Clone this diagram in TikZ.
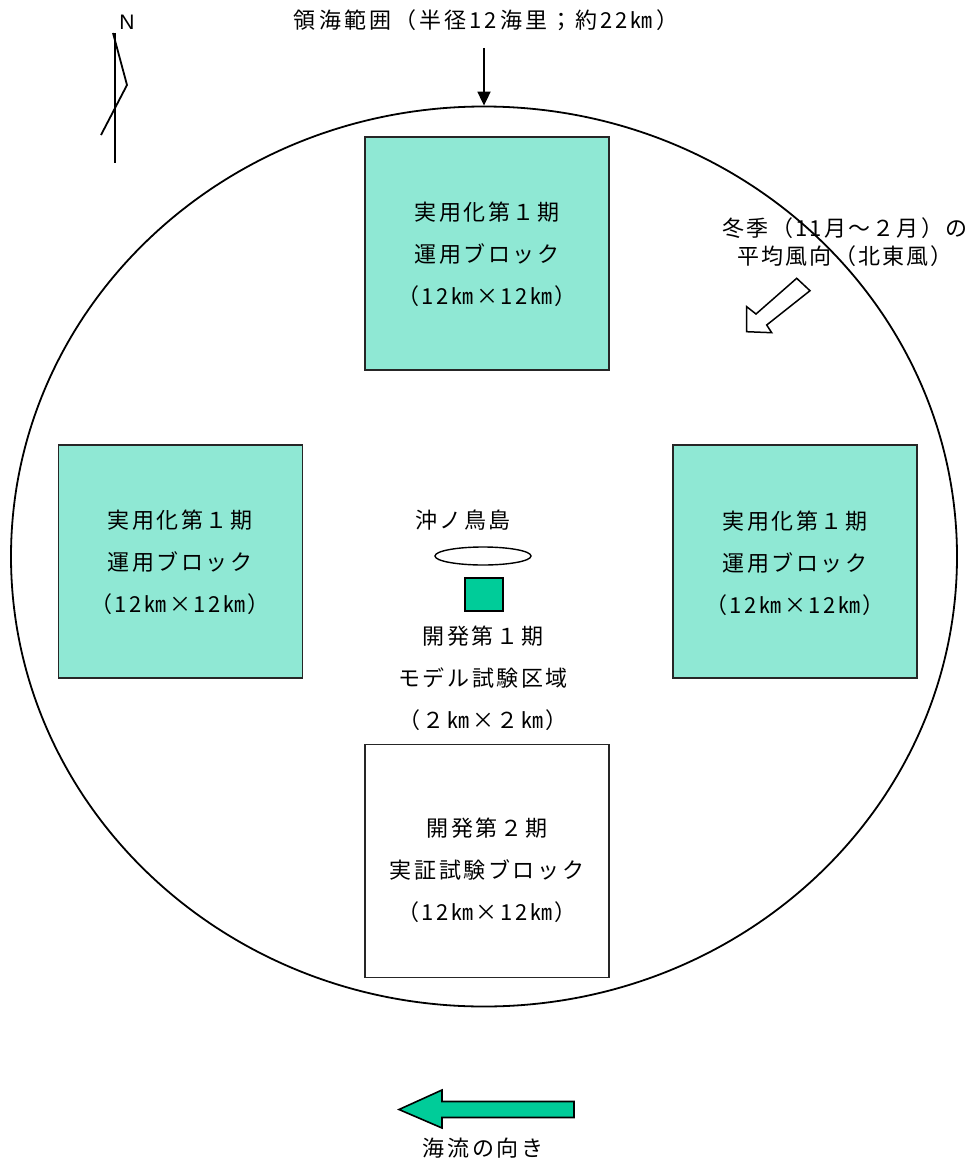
\documentclass[tikz,border=0pt]{standalone}
\usepackage{fontspec}
\newfontfamily\jp{Noto Sans CJK JP}
\setmainfont{Liberation Sans}
\usetikzlibrary{shapes.geometric,arrows.meta}
\definecolor{mint}{RGB}{143,232,212}
\definecolor{sea}{RGB}{0,204,153}
\tikzset{
  blk/.style={draw=black!85, line width=1.8pt, minimum width=244pt, minimum height=233pt, inner sep=0pt},
  lbl/.style={font=\jp\fontsize{22}{42}\selectfont\addfontfeature{LetterSpace=12}, align=center, inner sep=0pt},
  thin/.style={line width=1.8pt},
}
\begin{document}
\begin{tikzpicture}[x=1pt,y=-1pt]
\useasboundingbox (0,0) rectangle (970,1164);
% sea boundary
\node[draw, thin, ellipse, minimum width=946pt, minimum height=900pt, inner sep=0pt] (zone) at (484,556.5) {};
% title + arrow
\node[lbl, font=\jp\fontsize{22}{22}\selectfont\addfontfeature{LetterSpace=14}] (title) at (486,20) {領海範囲（半径12海里；約22㎞）};
\coordinate (tstart) at (484,48);
\draw[thin, -{Triangle[length=14pt,width=13pt]}] (tstart) -- (zone.north);
% north symbol
\coordinate (n1) at (115,33);
\coordinate (n2) at (115,163);
\coordinate (n3) at (113,33);
\coordinate (n4) at (127,85);
\coordinate (n5) at (101,135);
\draw[line width=1.8pt] (n1) -- (n2);
\draw[line width=1.8pt] (n3) -- (n4) -- (n5);
\node[font=\fontsize{21}{21}\selectfont, inner sep=0pt] (nlab) at (127,22) {N};
% blocks
\node[blk, fill=mint] (btop) at (487,253.5) {};
\node[blk, fill=mint] (bleft) at (180.5,561.5) {};
\node[blk, fill=mint] (bright) at (795,561.5) {};
\node[blk, fill=white] (bbot) at (487,861) {};
\node[lbl] (ttop) at (487,254) {実用化第１期\\運用ブロック\\（12㎞×12㎞）};
\node[lbl] (tleft) at (180,562) {実用化第１期\\運用ブロック\\（12㎞×12㎞）};
\node[lbl] (tright) at (795,563) {実用化第１期\\運用ブロック\\（12㎞×12㎞）};
\node[lbl] (tbot) at (487,870) {開発第２期\\実証試験ブロック\\（12㎞×12㎞）};
% island
\node[lbl] (island) at (463,520) {沖ノ鳥島};
\node[draw, line width=1.4pt, ellipse, minimum width=96pt, minimum height=18pt, inner sep=0pt] (islandshape) at (483,556) {};
\node[draw, line width=1.6pt, fill=sea, minimum width=38pt, minimum height=33pt, inner sep=0pt] (model) at (484,594.5) {};
\node[lbl] (tmodel) at (483,678) {開発第１期\\モデル試験区域\\（２㎞×２㎞）};
% wind
\node[lbl, font=\jp\fontsize{22}{28}\selectfont\addfontfeature{LetterSpace=10}] (wind) at (845,242) {冬季（11月～２月）の\\平均風向（北東風）};
\draw[line width=1.5pt, fill=white] (746.7,331.7) -- (746.7,306.7) -- (756,314) -- (796.7,278.3) -- (810,290.7) -- (766.7,325) -- (771.7,332.7) -- cycle;
% current
\draw[line width=1.6pt, fill=sea] (399,1109.5) -- (442,1090) -- (442,1101.5) -- (574,1101.5) -- (574,1117.5) -- (442,1117.5) -- (442,1128) -- cycle;
\node[lbl] (current) at (483,1148) {海流の向き};
\end{tikzpicture}
\end{document}
